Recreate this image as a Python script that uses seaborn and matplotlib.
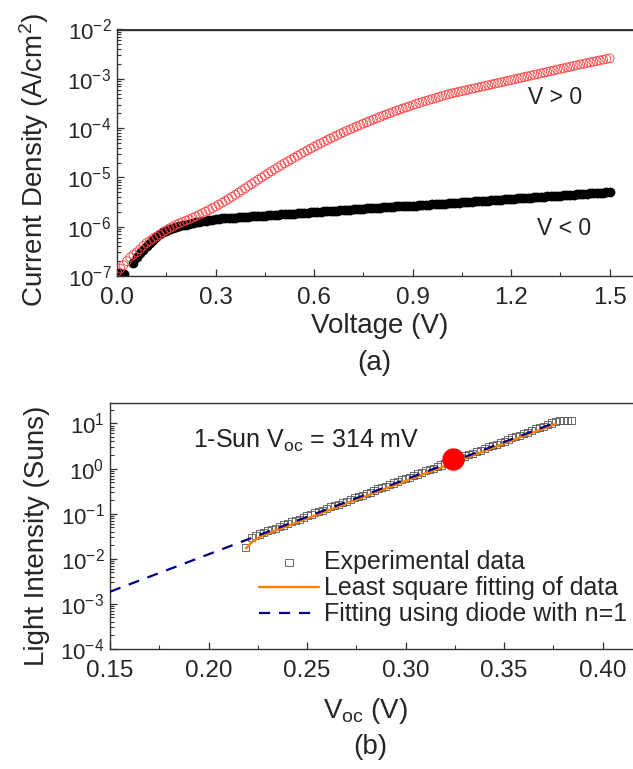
import numpy as np
import pandas as pd
import seaborn as sns
import matplotlib
matplotlib.use("Agg")
import matplotlib.pyplot as plt
from matplotlib.ticker import MultipleLocator, LogLocator, NullFormatter

# ---- panel (a): J-V data, log10 of current density (A/cm^2) ----
voltage = np.round(np.arange(0, 151) * 0.01, 2)

log_j_pos = [
    -6.92, -6.85, -6.78, -6.70, -6.62, -6.57, -6.52, -6.46, -6.39, -6.33,
    -6.29, -6.24, -6.20, -6.16, -6.11, -6.07, -6.03, -6.00, -5.96, -5.93,
    -5.904, -5.877, -5.849, -5.820, -5.790, -5.759, -5.727, -5.694, -5.660, -5.625,
    -5.589, -5.552, -5.514, -5.475, -5.435, -5.394, -5.352, -5.309, -5.265, -5.221,
    -5.177, -5.133, -5.089, -5.046, -5.003, -4.960, -4.918, -4.876, -4.835, -4.794,
    -4.754, -4.714, -4.675, -4.636, -4.598, -4.560, -4.523, -4.486, -4.450, -4.414,
    -4.379, -4.344, -4.310, -4.276, -4.243, -4.210, -4.178, -4.146, -4.115, -4.084,
    -4.054, -4.024, -3.995, -3.966, -3.938, -3.910, -3.882, -3.855, -3.828, -3.801,
    -3.775, -3.749, -3.724, -3.699, -3.674, -3.650, -3.626, -3.602, -3.580, -3.560,
    -3.535, -3.510, -3.490, -3.470, -3.450, -3.430, -3.410, -3.390, -3.370, -3.350,
    -3.330, -3.310, -3.295, -3.280, -3.265, -3.250, -3.235, -3.220, -3.205, -3.190,
    -3.175, -3.160, -3.145, -3.130, -3.115, -3.100, -3.085, -3.070, -3.055, -3.040,
    -3.025, -3.010, -2.995, -2.980, -2.965, -2.950, -2.935, -2.920, -2.905, -2.890,
    -2.875, -2.860, -2.845, -2.830, -2.815, -2.800, -2.785, -2.770, -2.755, -2.740,
    -2.725, -2.710, -2.696, -2.682, -2.668, -2.654, -2.640, -2.626, -2.612, -2.598,
    -2.584,
]

log_j_neg = [
    np.nan, -6.93, -6.95, np.nan, np.nan, -6.74, -6.62, -6.54, -6.47, -6.40,
    -6.34, -6.27, -6.20, -6.15, -6.11, -6.08, -6.05, -6.03, -6.01, -5.99,
    -5.97, -5.96, -5.94, -5.93, -5.91, -5.90, -5.89, -5.88, -5.87, -5.86,
    -5.85, -5.84, -5.83, -5.83, -5.83, -5.82, -5.82, -5.81, -5.81, -5.80,
    -5.80, -5.79, -5.79, -5.79, -5.78, -5.78, -5.77, -5.77, -5.76, -5.76,
    -5.75, -5.75, -5.74, -5.74, -5.74, -5.73, -5.73, -5.72, -5.72, -5.71,
    -5.71, -5.70, -5.70, -5.69, -5.69, -5.69, -5.68, -5.68, -5.67, -5.67,
    -5.66, -5.66, -5.65, -5.65, -5.64, -5.64, -5.63, -5.63, -5.63, -5.62,
    -5.62, -5.61, -5.61, -5.60, -5.60, -5.59, -5.59, -5.58, -5.58, -5.58,
    -5.57, -5.57, -5.56, -5.56, -5.55, -5.55, -5.54, -5.54, -5.53, -5.53,
    -5.53, -5.52, -5.52, -5.51, -5.51, -5.50, -5.50, -5.49, -5.49, -5.48,
    -5.48, -5.48, -5.47, -5.47, -5.46, -5.46, -5.45, -5.45, -5.44, -5.44,
    -5.43, -5.43, -5.42, -5.42, -5.42, -5.41, -5.41, -5.40, -5.40, -5.39,
    -5.39, -5.38, -5.38, -5.37, -5.37, -5.37, -5.36, -5.36, -5.35, -5.35,
    -5.34, -5.34, -5.33, -5.33, -5.32, -5.32, -5.32, -5.31, -5.31, -5.30,
    -5.30,
]

# ---- panel (b): Suns-Voc data ----
voc_exp = [
    0.219, 0.222, 0.224, 0.226, 0.228, 0.230, 0.232, 0.234, 0.236, 0.238,
    0.240, 0.242, 0.244, 0.246, 0.248, 0.250, 0.252, 0.254, 0.256, 0.258,
    0.260, 0.262, 0.264, 0.266, 0.268, 0.270, 0.272, 0.274, 0.276, 0.278,
    0.280, 0.282, 0.284, 0.286, 0.288, 0.290, 0.292, 0.294, 0.296, 0.298,
    0.300, 0.302, 0.304, 0.306, 0.308, 0.310, 0.312, 0.314, 0.316, 0.318,
    0.320, 0.322, 0.324, 0.326, 0.328, 0.330, 0.332, 0.334, 0.336, 0.338,
    0.340, 0.342, 0.344, 0.346, 0.348, 0.350, 0.352, 0.354, 0.356, 0.358,
    0.360, 0.362, 0.364, 0.366, 0.368, 0.370, 0.372, 0.374, 0.376, 0.378,
    0.380, 0.382, 0.384,
]
log_suns_exp = [
    -1.74, -1.52, -1.48, -1.45, -1.42, -1.38, -1.35, -1.32, -1.28, -1.25,
    -1.22, -1.18, -1.15, -1.12, -1.08, -1.05, -1.02, -0.98, -0.95, -0.92,
    -0.88, -0.85, -0.82, -0.79, -0.75, -0.72, -0.69, -0.65, -0.62, -0.59,
    -0.55, -0.52, -0.49, -0.45, -0.42, -0.39, -0.35, -0.32, -0.29, -0.25,
    -0.22, -0.19, -0.15, -0.12, -0.09, -0.05, -0.02, 0.01, 0.05, 0.08,
    0.11, 0.15, 0.18, 0.21, 0.25, 0.28, 0.31, 0.34, 0.38, 0.41,
    0.44, 0.48, 0.51, 0.54, 0.58, 0.61, 0.64, 0.68, 0.71, 0.74,
    0.78, 0.81, 0.84, 0.88, 0.91, 0.94, 0.98, 1.01, 1.04, 1.06,
    1.07, 1.07, 1.07,
]

voc_lsq = [0.219, 0.222, 0.226, 0.230, 0.376]
log_suns_lsq = [-1.77, -1.63, -1.52, -1.44, 0.99]

voc_diode = [0.150, 0.376]
log_suns_diode = [-2.73, 1.02]

one_sun_voc = [0.324]
one_sun_suns = [1.6]

# ---- style ----
sns.set_theme(style="ticks")
plt.rcParams["font.family"] = ["Liberation Sans", "DejaVu Sans"]
plt.rcParams["mathtext.fontset"] = "custom"
plt.rcParams["mathtext.rm"] = "Liberation Sans"
plt.rcParams["mathtext.it"] = "Liberation Sans:italic"
plt.rcParams["mathtext.bf"] = "Liberation Sans:bold"
plt.rcParams["axes.edgecolor"] = "#333333"
plt.rcParams["axes.linewidth"] = 1.0

fig = plt.figure(figsize=(6.33, 7.69), dpi=100)
ax1 = fig.add_axes([117 / 633, 493 / 769, 519 / 633, 246.5 / 769])
ax2 = fig.add_axes([110 / 633, 120 / 769, 532 / 633, 246.5 / 769])

df_a = pd.DataFrame({
    "V": voltage,
    "pos": np.power(10.0, log_j_pos),
    "neg": np.power(10.0, log_j_neg),
})

sns.scatterplot(data=df_a, x="V", y="neg", ax=ax1, marker="o", s=50,
                color="black", linewidth=0, zorder=2, legend=False)
sns.scatterplot(data=df_a, x="V", y="pos", ax=ax1, marker="o", s=40,
                facecolors="none", edgecolor="#ff4040", linewidth=0.6,
                zorder=3, legend=False)

ax1.set_yscale("log")
ax1.set_xlim(0, 1.58)
ax1.set_ylim(1e-7, 1e-2)
# frame line along the top of panel (a)
ax1.axhline(1e-2, color="#333333", linewidth=0.7, clip_on=False, zorder=6)
ax1.xaxis.set_major_locator(MultipleLocator(0.3))
ax1.xaxis.set_minor_locator(MultipleLocator(0.15))
ax1.xaxis.set_major_formatter(lambda v, p: f"{v:.1f}")
ax1.set_xlabel("Voltage (V)", fontsize=20)
ax1.set_ylabel("Current Density (A/cm$^2$)", fontsize=20)
ax1.xaxis.set_label_coords(0.507, -0.15)
ax1.yaxis.set_label_coords(-0.128, 0.47)
ax1.text(1.25, 10 ** -3.38, "V > 0", fontsize=16.5, color="#222222", va="center")
ax1.text(1.278, 10 ** -6.03, "V < 0", fontsize=16.5, color="#222222", va="center")

df_exp = pd.DataFrame({"V": voc_exp, "S": np.power(10.0, log_suns_exp)})
df_lsq = pd.DataFrame({"V": voc_lsq, "S": np.power(10.0, log_suns_lsq)})
df_dio = pd.DataFrame({"V": voc_diode, "S": np.power(10.0, log_suns_diode)})

sns.scatterplot(data=df_exp, x="V", y="S", ax=ax2, marker="s", s=26,
                facecolors="none", edgecolor="#555555", linewidth=0.6,
                label="Experimental data", zorder=2)
sns.lineplot(data=df_lsq, x="V", y="S", ax=ax2, color="#ff8000", linewidth=1.7,
             label="Least square fitting of data", zorder=3)
sns.lineplot(data=df_dio, x="V", y="S", ax=ax2, color="#000080", linewidth=1.6,
             linestyle=(0, (5, 4)), label="Fitting using diode with n=1", zorder=4)
sns.scatterplot(x=one_sun_voc, y=one_sun_suns, ax=ax2, marker="o", s=260,
                color="#ff0000", linewidth=0, zorder=5)

ax2.set_yscale("log")
ax2.set_xlim(0.15, 0.42)
ax2.set_ylim(1e-4, 29.2)
ax2.xaxis.set_major_locator(MultipleLocator(0.05))
ax2.xaxis.set_minor_locator(MultipleLocator(0.025))
ax2.xaxis.set_major_formatter(lambda v, p: f"{v:.2f}")
ax2.set_xlabel(r"V$_{\mathregular{oc}}$ (V)", fontsize=20)
ax2.set_ylabel("Light Intensity (Suns)", fontsize=20)
ax2.xaxis.set_label_coords(0.481, -0.19)
ax2.yaxis.set_label_coords(-0.113, 0.46)
ax2.text(0.192, 10 ** 0.62, r"1-Sun V$_{\mathregular{oc}}$ = 314 mV",
         fontsize=18, color="#222222", va="center")

ax2.legend(loc="upper left", bbox_to_anchor=(0.280, 0.40), frameon=False,
           fontsize=18, handlelength=2.4, handletextpad=0.2, labelspacing=0.08,
           borderaxespad=0, borderpad=0)

for ax in (ax1, ax2):
    ax.yaxis.set_major_locator(LogLocator(base=10, numticks=20))
    ax.yaxis.set_minor_locator(LogLocator(base=10, subs=np.arange(2, 10), numticks=20))
    ax.yaxis.set_minor_formatter(NullFormatter())
    ax.tick_params(axis="both", which="major", direction="in", length=5,
                   width=0.9, color="#333333")
    ax.tick_params(axis="both", which="minor", direction="in", length=3,
                   width=0.8, color="#333333")
    ax.tick_params(axis="x", labelsize=17.5, pad=8)
    ax.tick_params(axis="y", labelsize=16, pad=4)
    for side in ("top", "right"):
        ax.spines[side].set_visible(True)
        ax.spines[side].set_color("#333333")

fig.text(0.592, 1 - 363 / 769, "(a)", fontsize=20, ha="center", va="center")
fig.text(0.585, 1 - 747 / 769, "(b)", fontsize=20, ha="center", va="center")

fig.savefig("out.png", dpi=100)
